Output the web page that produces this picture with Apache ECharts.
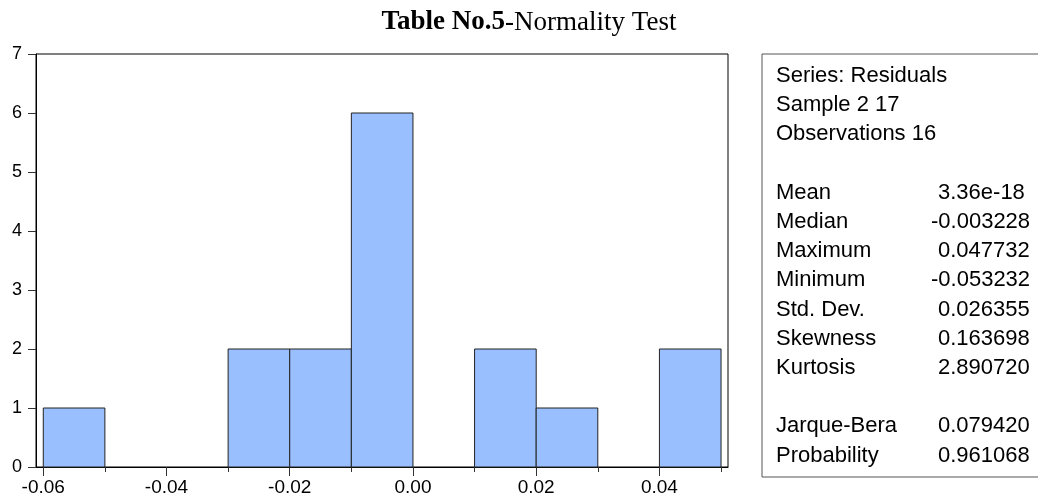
<!DOCTYPE html>
<html>
<head>
<meta charset="utf-8">
<script src="https://cdn.jsdelivr.net/npm/echarts@6/dist/echarts.min.js"></script>
<style>
html,body{margin:0;padding:0;background:#fff;}
#chart{width:1038px;height:497px;}
</style>
</head>
<body>
<div id="chart"></div>
<script>
// Histogram bins (lower edge) and counts
const binStarts = [-0.06, -0.05, -0.04, -0.03, -0.02, -0.01, 0.00, 0.01, 0.02, 0.03, 0.04];
const binWidth = 0.01;
const counts = [1, 0, 0, 2, 2, 6, 0, 2, 1, 0, 2];
const xLabelTicks = [-0.06, -0.04, -0.02, 0.00, 0.02, 0.04];
const xMinorTicks = [-0.05, -0.03, -0.01, 0.01, 0.03, 0.05];
const statHeader = ['Series: Residuals', 'Sample 2 17', 'Observations 16'];
const statNames = ['Mean', 'Median', 'Maximum', 'Minimum', 'Std. Dev.', 'Skewness', 'Kurtosis'];
const statValues = ['3.36e-18', '-0.003228', '0.047732', '-0.053232', '0.026355', '0.163698', '2.890720'];
const testNames = ['Jarque-Bera', 'Probability'];
const testValues = ['0.079420', '0.961068'];

const FONT = '"Liberation Sans", Arial, sans-serif';
const SERIF = '"Liberation Serif", "Times New Roman", serif';
const chart = echarts.init(document.getElementById('chart'), null, {renderer: 'canvas'});

const barData = binStarts.map((s, i) => [s, s + binWidth, counts[i]]);

// Stats box text elements
const lineH = 29.2;
const y0 = 76;
const textEls = [];
function addText(str, x, y, align) {
  textEls.push({
    type: 'text', x: x, y: y, z: 20,
    style: {text: str, font: '22px ' + FONT, fill: '#000', textAlign: align, textVerticalAlign: 'middle'}
  });
}
function addValue(str, y) {
  addText(str, str.charAt(0) === '-' ? 931 : 938, y, 'left');
}
statHeader.forEach((t, i) => addText(t, 776, y0 + lineH * i, 'left'));
statNames.forEach((t, i) => addText(t, 776, y0 + lineH * (4 + i), 'left'));
statValues.forEach((t, i) => addValue(t, y0 + lineH * (4 + i)));
testNames.forEach((t, i) => addText(t, 776, y0 + lineH * (12 + i), 'left'));
testValues.forEach((t, i) => addValue(t, y0 + lineH * (12 + i)));

const option = {
  backgroundColor: '#fff',
  animation: false,
  title: {
    text: '{b|Table No.5}{n|-Normality Test}',
    left: 529, top: 9, textAlign: 'center', padding: 0,
    textStyle: {
      rich: {
        b: {fontFamily: SERIF, fontWeight: 'bold', fontSize: 27, color: '#000'},
        n: {fontFamily: SERIF, fontWeight: 'normal', fontSize: 27, color: '#000'}
      }
    }
  },
  grid: {left: 36, right: 310, top: 54, bottom: 29, show: true, borderColor: '#000', borderWidth: 1, backgroundColor: 'transparent'},
  xAxis: [{
    type: 'value', min: -0.06118, max: 0.05113, position: 'bottom',
    axisLine: {show: true, onZero: false, lineStyle: {color: '#000', width: 1}},
    splitLine: {show: false},
    axisTick: {show: true, customValues: xLabelTicks, length: 9, inside: false, lineStyle: {color: '#333'}},
    axisLabel: {customValues: xLabelTicks, formatter: v => v.toFixed(2), color: '#000', fontSize: 19, fontFamily: FONT, margin: 11}
  }, {
    type: 'value', min: -0.06118, max: 0.05113, position: 'bottom',
    axisLine: {show: false, onZero: false},
    splitLine: {show: false},
    axisTick: {show: true, customValues: xMinorTicks, length: 5, lineStyle: {color: '#333'}},
    axisLabel: {show: false}
  }],
  yAxis: {
    type: 'value', min: 0, max: 7, interval: 1,
    axisLine: {show: true, onZero: false, lineStyle: {color: '#000'}},
    splitLine: {show: false},
    axisTick: {show: true, length: 8, lineStyle: {color: '#333'}},
    axisLabel: {color: '#000', fontSize: 18, fontFamily: FONT, margin: 14, padding: [0, 0, 6, 0]}
  },
  graphic: [{
    type: 'rect', shape: {x: 762, y: 54, width: 290, height: 423}, z: 10,
    style: {fill: 'none', stroke: '#555', lineWidth: 1}
  }].concat(textEls),
  series: [{
    type: 'custom',
    xAxisIndex: 0,
    data: barData,
    renderItem: function (params, api) {
      if (api.value(2) <= 0) return null;
      const p0 = api.coord([api.value(0), 0]);
      const p1 = api.coord([api.value(1), api.value(2)]);
      return {
        type: 'rect',
        shape: {x: p0[0], y: p1[1], width: p1[0] - p0[0], height: p0[1] - p1[1]},
        style: {fill: '#99BFFF', stroke: '#222', lineWidth: 1}
      };
    }
  }]
};
chart.setOption(option);
</script>
</body>
</html>
